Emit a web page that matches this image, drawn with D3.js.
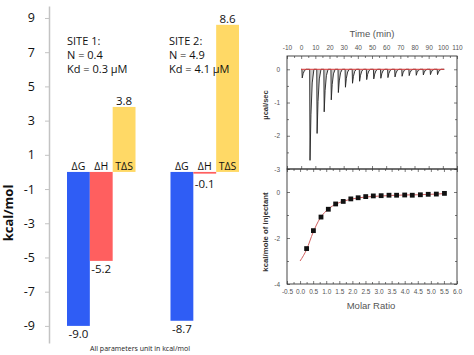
<!DOCTYPE html>
<html>
<head>
<meta charset="utf-8">
<script src="https://cdn.jsdelivr.net/npm/d3@7"></script>
<style>
  html, body { margin: 0; padding: 0; background: #fff; }
  svg { display: block; }
</style>
</head>
<body>
<svg id="chart" width="474" height="355"></svg>
<script>
// ---------- Data: thermodynamic bar chart ----------
const sites = ["SITE 1", "SITE 2"];
const params = ["ΔG", "ΔH", "TΔS"];
const site1Values = [-9.0, -5.2, 3.8];
const site2Values = [-8.7, -0.1, 8.6];
const siteN = ["0.4", "4.9"];
const siteKd = ["0.3", "4.1"];
const yTicks = [9, 7, 5, 3, 1, -1, -3, -5, -7, -9];
const barColors = ["#2f5df5", "#ff5f5f", "#ffd966"];

// ---------- Data: ITC raw trace ----------
const injectionTimes = [0.5, 6, 11, 16, 21, 26, 31, 36, 41, 46, 51, 56, 61, 66, 71, 76, 81, 86, 91, 96];
const peakDepths = [-0.26, -2.74, -1.93, -1.28, -0.92, -0.70, -0.54, -0.42, -0.36, -0.31,
                    -0.29, -0.27, -0.25, -0.23, -0.21, -0.19, -0.18, -0.17, -0.16, -0.16];
const timeTicks = [-10, 0, 10, 20, 30, 40, 50, 60, 70, 80, 90, 100, 110];
const timeMinor = [-5, 5, 15, 25, 35, 45, 55, 65, 75, 85, 95, 105];
const rateTicks = [0, -1, -2, -3];
const rateMinor = [-0.5, -1.5, -2.5];

// ---------- Data: ITC integrated heats ----------
const molarRatio = [0.25, 0.51, 0.80, 1.08, 1.36, 1.65, 1.94, 2.22, 2.51, 2.80,
                    3.10, 3.40, 3.69, 4.00, 4.29, 4.60, 4.90, 5.21, 5.52];
const heat = [-2.46, -1.68, -1.09, -0.75, -0.52, -0.41, -0.30, -0.25, -0.20, -0.17,
              -0.16, -0.14, -0.14, -0.13, -0.14, -0.12, -0.10, -0.09, -0.06];
const fitX = [0.0, 0.25, 0.5, 0.75, 1.0, 1.25, 1.5, 1.75, 2.0, 2.5, 3.0, 3.5, 4.0, 4.5, 5.0, 5.55];
const fitY = [-3.0, -2.5, -1.75, -1.17, -0.82, -0.6, -0.46, -0.37, -0.3, -0.22, -0.18, -0.15, -0.13, -0.12, -0.1, -0.07];
const molarTicks = [-0.5, 0.0, 0.5, 1.0, 1.5, 2.0, 2.5, 3.0, 3.5, 4.0, 4.5, 5.0, 5.5, 6.0];
const molarMinor = [-0.25, 0.25, 0.75, 1.25, 1.75, 2.25, 2.75, 3.25, 3.75, 4.25, 4.75, 5.25, 5.75];
const heatTicks = [0, -2, -4];
const heatMinor = [1, -1, -3];

const svg = d3.select("#chart");
const FONT = "'Open Sans', sans-serif";
const AFONT = "'Liberation Sans', Arial, sans-serif";
const fmtInt = d => String(d);
const fmt1 = d => d.toFixed(1);

// ================= Left: bar chart =================
const y = d3.scaleLinear().domain([-10, 9.7]).range([343, 6]);
const x0 = d3.scaleBand().domain(sites).range([67, 239]).paddingInner(0.338).paddingOuter(0);
const x1 = d3.scaleBand().domain(params).range([0, x0.bandwidth()]).padding(0);

const yAxis = svg.append("g").attr("transform", "translate(49,0)")
  .call(d3.axisLeft(y).tickValues(yTicks).tickSize(4).tickSizeOuter(0).tickPadding(10).tickFormat(fmtInt));
yAxis.select(".domain").attr("stroke", "#c3c3c3").attr("stroke-width", 1.5);
yAxis.selectAll(".tick line").attr("stroke", "#c3c3c3");
yAxis.selectAll(".tick text").attr("font-family", FONT).attr("font-size", 12.5).attr("fill", "#111");

svg.append("text")
  .attr("transform", "translate(13,213) rotate(-90)")
  .attr("text-anchor", "middle")
  .attr("font-family", FONT).attr("font-size", 13).attr("font-weight", "bold")
  .attr("fill", "#111")
  .text("kcal/mol");

const siteData = [site1Values, site2Values];
sites.forEach((s, si) => {
  const g = svg.append("g").attr("transform", `translate(${x0(s)},0)`);
  const vals = siteData[si];
  g.selectAll("rect").data(vals).join("rect")
    .attr("x", (d, i) => x1(params[i]))
    .attr("width", x1.bandwidth())
    .attr("y", d => y(Math.max(0, d)))
    .attr("height", d => Math.max(1.5, Math.abs(y(d) - y(0))))
    .attr("fill", (d, i) => barColors[i]);
  // parameter names
  g.selectAll("text.pname").data(params).join("text")
    .attr("class", "pname")
    .attr("x", p => x1(p) + x1.bandwidth() / 2)
    .attr("y", y(0) - 2)
    .attr("text-anchor", "middle")
    .attr("font-family", FONT).attr("font-size", 10.5).attr("fill", "#111")
    .text(p => p);
  // value labels
  g.selectAll("text.val").data(vals).join("text")
    .attr("class", "val")
    .attr("x", (d, i) => x1(params[i]) + x1.bandwidth() / 2)
    .attr("y", d => d >= 0 ? y(d) - 2 : y(d) + (d > -1 ? 14 : 12))
    .attr("text-anchor", "middle")
    .attr("font-family", FONT).attr("font-size", 11.5).attr("fill", "#111")
    .text(fmt1);
  // site info
  const info = [s + ":", "N = " + siteN[si], "Kd = " + siteKd[si] + " µM"];
  svg.append("g").selectAll("text").data(info).join("text")
    .attr("x", x0(s) - 1.5 * si)
    .attr("y", (d, i) => 45 + i * 14)
    .attr("font-family", FONT).attr("font-size", 11).attr("fill", "#111")
    .text(d => d);
});

svg.append("text")
  .attr("x", 140).attr("y", 351)
  .attr("text-anchor", "middle")
  .attr("font-family", FONT).attr("font-size", 7).attr("fill", "#222")
  .text("All parameters unit in kcal/mol");

// ================= Right: ITC plots =================
const tx = d3.scaleLinear().domain([-10, 110]).range([287, 457]);
const ty = d3.scaleLinear().domain([-3, 0.4]).range([169, 56]);
const mx = d3.scaleLinear().domain([-0.5, 6]).range([287, 457]);
const my = d3.scaleLinear().domain([-4, 1]).range([284, 169]);

function addAxis(axis, tr) {
  const g = svg.append("g").attr("transform", tr).attr("color", "#555").call(axis);
  g.select(".domain").remove();
  g.selectAll(".tick line").attr("stroke", "#444").attr("stroke-width", 0.7);
  g.selectAll(".tick text").attr("font-family", AFONT).attr("font-size", 6.5).attr("fill", "#555");
  return g;
}

// raw trace
const tracePts = [[0, 0]];
injectionTimes.forEach((t, i) => {
  const d = peakDepths[i];
  tracePts.push([t, 0], [t + 0.25, d], [t + 0.9, d * 0.5], [t + 1.8, d * 0.15], [t + 3, 0]);
});
tracePts.push([101, 0]);
svg.append("path")
  .attr("d", d3.line().x(p => tx(p[0])).y(p => ty(p[1]))(tracePts))
  .attr("fill", "#aaa").attr("fill-opacity", 0.6)
  .attr("stroke", "#222").attr("stroke-width", 0.9);
svg.append("line")
  .attr("x1", tx(0)).attr("x2", tx(101)).attr("y1", ty(0)).attr("y2", ty(0))
  .attr("stroke", "#e03c3c").attr("stroke-width", 1);

// integrated heats
svg.append("path")
  .attr("d", d3.line().x((d, i) => mx(fitX[i])).y(d => my(d)).curve(d3.curveMonotoneX)(fitY))
  .attr("fill", "none").attr("stroke", "#d06060").attr("stroke-width", 1);
svg.selectAll("rect.pt").data(heat).join("rect")
  .attr("class", "pt")
  .attr("x", (d, i) => mx(molarRatio[i]) - 2.4)
  .attr("y", d => my(d) - 2.4)
  .attr("width", 4.8).attr("height", 4.8)
  .attr("fill", "#111");

// top plot axes
addAxis(d3.axisTop(tx).tickValues(timeTicks).tickSize(-3).tickPadding(6).tickFormat(fmtInt), "translate(0,56)");
addAxis(d3.axisTop(tx).tickValues(timeMinor).tickSize(-2).tickFormat(""), "translate(0,56)");
addAxis(d3.axisLeft(ty).tickValues(rateTicks).tickSize(-3).tickPadding(7).tickFormat(fmtInt), "translate(287,0)");
addAxis(d3.axisLeft(ty).tickValues(rateMinor).tickSize(-2).tickFormat(""), "translate(287,0)");
addAxis(d3.axisRight(ty).tickValues(rateTicks).tickSize(-3).tickFormat(""), "translate(457,0)");
addAxis(d3.axisRight(ty).tickValues(rateMinor).tickSize(-2).tickFormat(""), "translate(457,0)");
addAxis(d3.axisBottom(tx).tickValues(timeTicks).tickSize(-3).tickFormat(""), "translate(0,169)");

// bottom plot axes
addAxis(d3.axisBottom(mx).tickValues(molarTicks).tickSize(-3).tickPadding(5).tickFormat(fmt1), "translate(0,284)");
addAxis(d3.axisBottom(mx).tickValues(molarMinor).tickSize(-2).tickFormat(""), "translate(0,284)");
addAxis(d3.axisTop(mx).tickValues(molarTicks).tickSize(-3).tickFormat(""), "translate(0,169)");
addAxis(d3.axisTop(mx).tickValues(molarMinor).tickSize(-2).tickFormat(""), "translate(0,169)");
addAxis(d3.axisLeft(my).tickValues(heatTicks).tickSize(-3).tickPadding(7).tickFormat(fmtInt), "translate(287,0)");
addAxis(d3.axisLeft(my).tickValues(heatMinor).tickSize(-2).tickFormat(""), "translate(287,0)");
addAxis(d3.axisRight(my).tickValues(heatTicks).tickSize(-3).tickFormat(""), "translate(457,0)");
addAxis(d3.axisRight(my).tickValues(heatMinor).tickSize(-2).tickFormat(""), "translate(457,0)");

// frames
[[tx, ty], [mx, my]].forEach(([sx, sy]) => {
  const [x1r, x2r] = sx.range(), [y1r, y2r] = sy.range();
  svg.append("rect")
    .attr("x", x1r).attr("y", y2r)
    .attr("width", x2r - x1r).attr("height", y1r - y2r)
    .attr("fill", "none").attr("stroke", "#333").attr("stroke-width", 0.9);
});

// ITC titles
svg.append("text").attr("x", 372).attr("y", 37).attr("text-anchor", "middle")
  .attr("font-family", AFONT).attr("font-size", 9.5).attr("fill", "#555").text("Time (min)");
svg.append("text").attr("x", 371).attr("y", 309).attr("text-anchor", "middle")
  .attr("font-family", AFONT).attr("font-size", 9.5).attr("fill", "#555").text("Molar Ratio");
svg.append("text").attr("transform", "translate(268,105) rotate(-90)").attr("text-anchor", "middle")
  .attr("font-family", AFONT).attr("font-size", 7.5).attr("font-weight", "bold").attr("fill", "#333").text("µcal/sec");
svg.append("text").attr("transform", "translate(268,232) rotate(-90)").attr("text-anchor", "middle")
  .attr("font-family", AFONT).attr("font-size", 7.8).attr("font-weight", "bold").attr("fill", "#333").text("kcal/mole of injectant");
</script>
</body>
</html>
